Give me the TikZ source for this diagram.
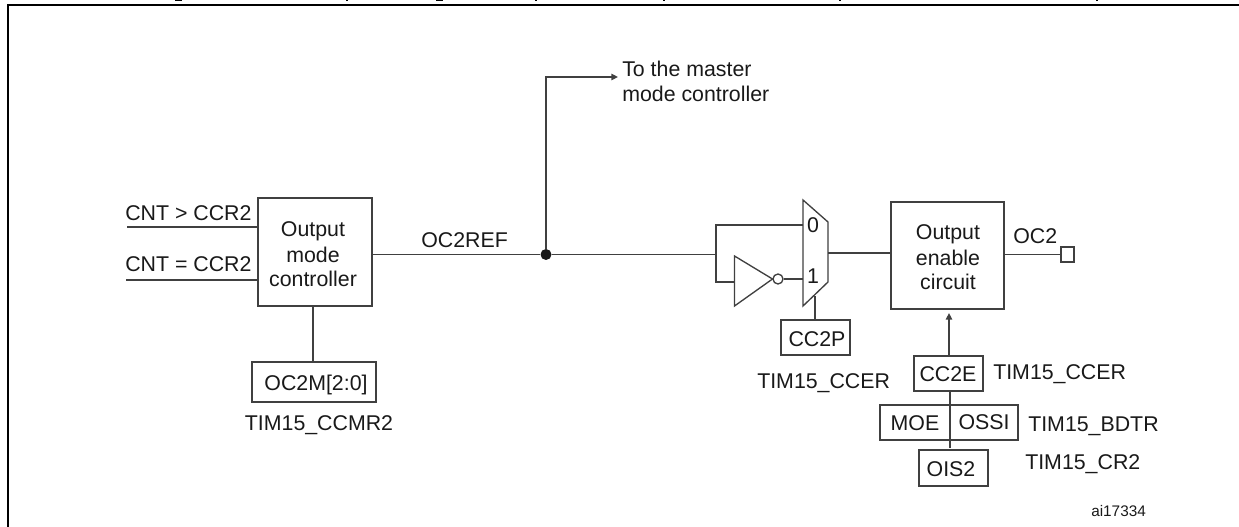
\documentclass[tikz,border=0pt]{standalone}
\usepackage{fontspec}
\setmainfont{Liberation Sans}
\usetikzlibrary{arrows.meta}
\tikzset{
  x=0.75pt,y=-0.75pt,
  wire/.style={draw=black!75,line width=1pt},
  boxed/.style={draw=black!75,line width=1pt,fill=white},
  lbl/.style={inner sep=0pt,anchor=base,font=\fontsize{16pt}{18pt}\selectfont,text=black!90},
  lblw/.style={lbl,anchor=base west},
  tip/.style={-{Triangle[length=5pt,width=4.8pt]}},
}
\begin{document}
\begin{tikzpicture}
\useasboundingbox (0,0) rectangle (1239,527);
% frame, cut off by the image on right and bottom
\draw[black,line width=1.5pt] (7.5,527) -- (7.5,5.5) -- (1239,5.5);
% descenders of the cropped title
\foreach \mx/\mw in {178/7,347/2,439/7,536/2,664/2,840/2,1097/2}
  \fill[black] (\mx-\mw/2,0) rectangle (\mx+\mw/2,1.5);

% blocks
\node[boxed,minimum width=85.5pt,minimum height=81pt,inner sep=0pt] (omc) at (315,252) {};
\node[boxed,minimum width=93pt,minimum height=30pt,inner sep=0pt] (ocm) at (314,382) {};
\node[boxed,minimum width=84.75pt,minimum height=80.25pt,inner sep=0pt] (oec) at (947.5,255.5) {};
\node[boxed,minimum width=51.75pt,minimum height=26.25pt,inner sep=0pt] (ccp) at (815.5,337.5) {};
\node[boxed,minimum width=51.75pt,minimum height=26.25pt,inner sep=0pt] (cce) at (948.5,373.5) {};
\node[boxed,minimum width=103.5pt,minimum height=26.25pt,inner sep=0pt] (moe) at (949,422.5) {};
\node[boxed,minimum width=51.75pt,minimum height=27pt,inner sep=0pt] (ois) at (953.5,468) {};
\node[boxed,minimum width=9.75pt,minimum height=11.25pt,inner sep=0pt] (pad) at (1067.5,254.5) {};

% junction and free ends
\node[circle,fill=black!90,minimum size=8.25pt,inner sep=0pt] (dot) at (546,254.5) {};
\coordinate (in1) at (127,227);
\coordinate (in2) at (126,280);
\coordinate (mst) at (618,77);
\coordinate (brk) at (716,254.5);

% mux and inverter
\draw[boxed,line join=miter] (803,200) -- (828,222) -- (828,282) -- (803,306) -- cycle;
\coordinate (mux0) at (803,225);
\coordinate (mux1) at (803,279);
\coordinate (muxo) at (828,253);
\coordinate (muxs) at (815,296);
\draw[boxed] (734.5,256) -- (772.5,279) -- (734.5,306) -- cycle;
\node[circle,draw=black!75,line width=1pt,fill=white,minimum size=7.5pt,inner sep=0pt] (bub) at (778,279) {};
\coordinate (invi) at (734.5,282);

% connectors
\draw[wire] (in1) -- (in1 -| omc.west);
\draw[wire] (in2) -- (in2 -| omc.west);
\draw[wire] (omc.south -| 313,0) -- (ocm.north -| 313,0);
\draw[wire] (omc.east |- dot) -- (dot) -- (brk);
\draw[wire,tip] (dot) -- (dot |- mst) -- (mst);
\draw[wire] (mux0) -- (mux0 -| brk) -- (invi -| brk) -- (invi);
\draw[wire] (bub.east) -- (mux1);
\draw[wire] (muxo) -- (muxo -| oec.west);
\draw[wire] (muxs) -- (muxs |- ccp.north);
\draw[wire] (oec.east |- pad) -- (pad.west);
\draw[wire,tip,shorten >=2.5pt] (cce.north -| 949,0) -- (oec.south -| 949,0);
\draw[wire] (cce.south -| 950,0) -- (950,448);

% labels
\node[lblw] (t1) at (125,221) {CNT > CCR2};
\node[lblw] (t2) at (125,272) {CNT = CCR2};
\node[lbl] (t3) at (313,237) {Output};
\node[lbl] (t4) at (313,263) {mode};
\node[lbl] (t5) at (313,287) {controller};
\node[lbl] (t6) at (316,390) {OC2M[2:0]};
\node[lbl] (t7) at (319,430) {TIM15\_CCMR2};
\node[lblw] (t8) at (421,248) {OC2REF};
\node[lblw] (t9) at (622,77) {To the master};
\node[lblw] (t10) at (622,102) {mode controller};
\node[lbl] (t11) at (813,233) {0};
\node[lbl] (t12) at (813,284) {1};
\node[lbl] (t13) at (817,347) {CC2P};
\node[lblw] (t14) at (757,388) {TIM15\_CCER};
\node[lbl] (t15) at (948,240) {Output};
\node[lbl] (t16) at (948,266) {enable};
\node[lbl] (t17) at (948,290) {circuit};
\node[lblw] (t18) at (1013,244) {OC2};
\node[lbl] (t19) at (948,381) {CC2E};
\node[lblw] (t20) at (993,379) {TIM15\_CCER};
\node[lbl] (t21) at (915,430) {MOE};
\node[lbl] (t22) at (984,429) {OSSI};
\node[lblw] (t23) at (1028,431) {TIM15\_BDTR};
\node[lbl] (t24) at (951,476) {OIS2};
\node[lblw] (t25) at (1025,469) {TIM15\_CR2};
\node[lblw,font=\fontsize{11.5pt}{14pt}\selectfont] (t26) at (1091,516) {ai17334};
\end{tikzpicture}
\end{document}
